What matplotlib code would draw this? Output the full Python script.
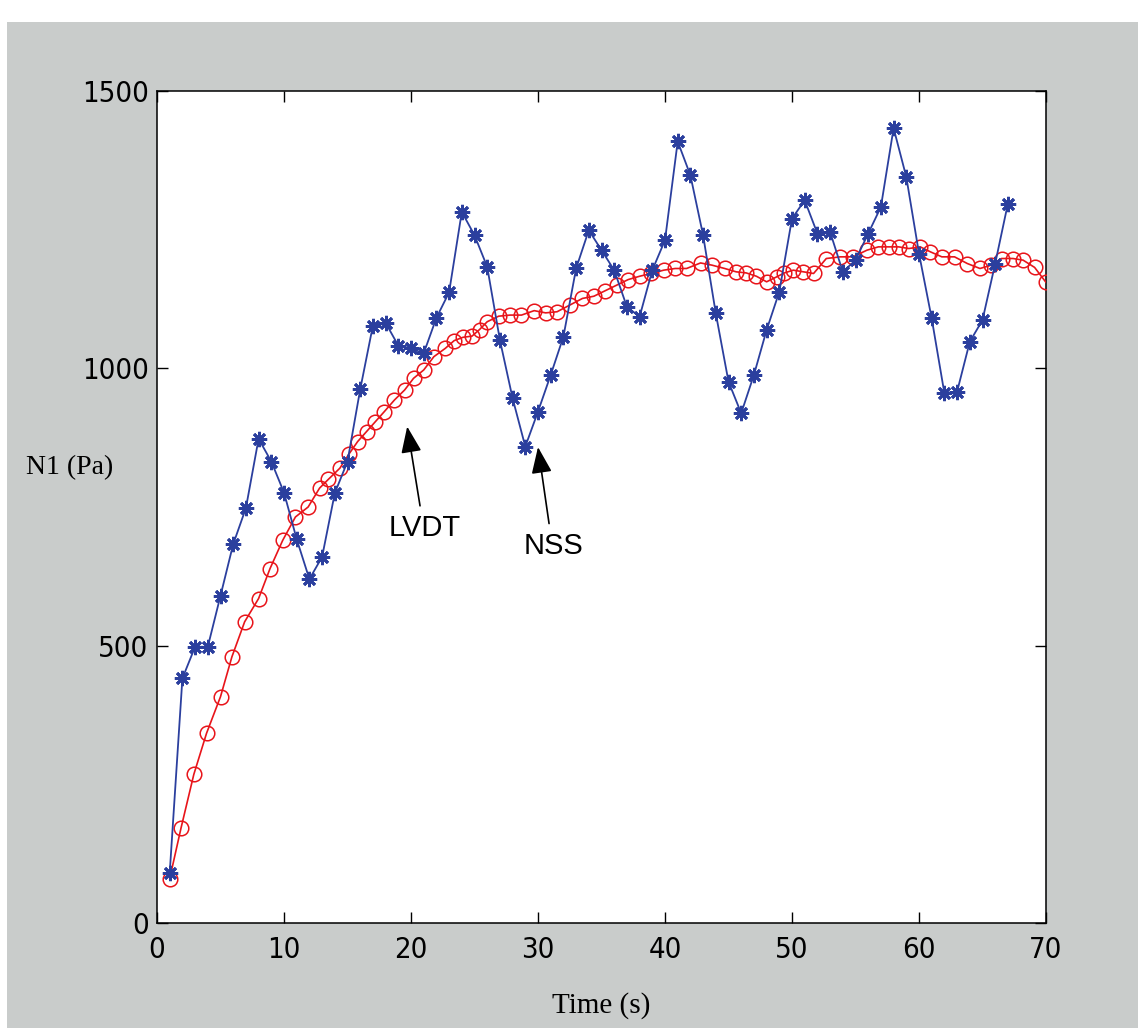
import matplotlib
matplotlib.use("Agg")
import matplotlib.pyplot as plt
from matplotlib.patches import Rectangle

# ---------------- data ----------------
nss_time = list(range(1, 68))
nss_n1 = [90, 441, 498, 498, 590, 683, 748, 873, 832, 776,
          692, 620, 660, 775, 832, 962, 1077, 1082, 1041, 1036,
          1027, 1091, 1137, 1282, 1240, 1183, 1051, 946, 859, 922,
          988, 1057, 1180, 1249, 1213, 1177, 1111, 1093, 1177, 1231,
          1409, 1348, 1240, 1099, 976, 919, 988, 1069, 1138, 1270,
          1303, 1243, 1246, 1174, 1195, 1243, 1291, 1433, 1345, 1207,
          1090, 955, 958, 1048, 1087, 1189, 1297]

lvdt_time = [1.0, 1.9, 2.9, 3.9, 5.0, 5.9, 6.9, 8.0, 8.9, 9.9,
             10.9, 11.9, 12.8, 13.5, 14.4, 15.1, 15.8, 16.5, 17.2, 17.9,
             18.7, 19.5, 20.2, 21.0, 21.8, 22.7, 23.4, 24.1, 24.8, 25.4,
             26.0, 26.9, 27.8, 28.7, 29.7, 30.6, 31.5, 32.5, 33.5, 34.4,
             35.3, 36.2, 37.1, 38.0, 38.9, 39.9, 40.8, 41.7, 42.8, 43.7,
             44.7, 45.6, 46.4, 47.2, 48.0, 48.8, 49.4, 50.1, 50.9, 51.7,
             52.7, 53.8, 54.8, 55.9, 56.8, 57.6, 58.4, 59.2, 60.1, 60.9,
             61.8, 62.8, 63.8, 64.8, 65.7, 66.5, 67.4, 68.2, 69.1, 70.0]
lvdt_n1 = [80, 172, 268, 342, 408, 480, 543, 585, 639, 690,
           732, 750, 784, 800, 820, 845, 868, 886, 904, 922,
           943, 961, 982, 997, 1021, 1036, 1050, 1056, 1058, 1070,
           1084, 1094, 1096, 1096, 1104, 1100, 1102, 1114, 1126, 1130,
           1140, 1150, 1160, 1166, 1171, 1177, 1180, 1180, 1190, 1186,
           1180, 1174, 1172, 1166, 1156, 1165, 1172, 1177, 1174, 1171,
           1198, 1201, 1201, 1213, 1219, 1219, 1219, 1216, 1219, 1210,
           1201, 1201, 1189, 1180, 1186, 1198, 1198, 1195, 1182, 1155]

x_ticks = [0, 10, 20, 30, 40, 50, 60, 70]
y_ticks = [0, 500, 1000, 1500]
x_label = "Time (s)"
y_label = "N1 (Pa)"

# ---------------- figure ----------------
W, H = 1138, 1028
fig = plt.figure(figsize=(W / 100, H / 100), dpi=100, facecolor="white")
fig.patches.append(Rectangle((7 / W, 0), 1 - 7 / W, (H - 22) / H,
                             transform=fig.transFigure, facecolor="#c9cccb",
                             edgecolor="none", zorder=-10))

ax = fig.add_axes([157 / W, (H - 923) / H, (1046 - 157) / W, (923 - 91) / H])
ax.set_zorder(5)
ax.set_facecolor("white")

ax.plot(lvdt_time, lvdt_n1, color="#e8141a", lw=1.2, marker="o",
        markersize=10.5, markerfacecolor="none", markeredgecolor="#e8141a",
        markeredgewidth=1.1, zorder=3)
ax.plot(nss_time, nss_n1, color="#2b3f9e", lw=1.3, marker=(8, 2, 0),
        markersize=11, markeredgecolor="#2b3f9e", markeredgewidth=2.0,
        zorder=4)

ax.set_xlim(0, 70)
ax.set_ylim(0, 1500)
ax.set_xticks(x_ticks)
ax.set_yticks(y_ticks)

tick_font = ["Liberation Sans Narrow", "DejaVu Sans"]
ax.tick_params(direction="in", length=8, width=1.0, top=True, right=True,
               labelsize=21, colors="black")
ax.tick_params(axis="x", pad=9)
ax.tick_params(axis="y", pad=6)
for lab in ax.get_xticklabels() + ax.get_yticklabels():
    lab.set_family(tick_font)
    lab.set_stretch("condensed")
for s in ax.spines.values():
    s.set_linewidth(1.1)
    s.set_color("black")

ax.set_xlabel(x_label, fontsize=21, family=["Liberation Serif", "DejaVu Serif"])
ax.xaxis.set_label_coords(0.5, -0.083)
ax.set_ylabel(y_label, fontsize=20, family=["Liberation Serif", "DejaVu Serif"],
              rotation=0, ha="center", va="center")
ax.yaxis.set_label_coords(-0.098, 0.547)

arrow = dict(arrowstyle="-|>,head_length=0.9,head_width=0.35", color="black",
             lw=1.2, mutation_scale=18, relpos=(0.45, 1.0), shrinkA=4, shrinkB=0)
ax.annotate("LVDT", xy=(19.7, 895), xytext=(21.1, 712), fontsize=21,
            family=["Liberation Sans", "DejaVu Sans"], ha="center", va="center",
            arrowprops=arrow, zorder=6)
ax.annotate("NSS", xy=(30.0, 858), xytext=(31.2, 680), fontsize=21,
            family=["Liberation Sans", "DejaVu Sans"], ha="center", va="center",
            arrowprops=arrow, zorder=6)

fig.savefig("out.png", dpi=100, facecolor=fig.get_facecolor())
